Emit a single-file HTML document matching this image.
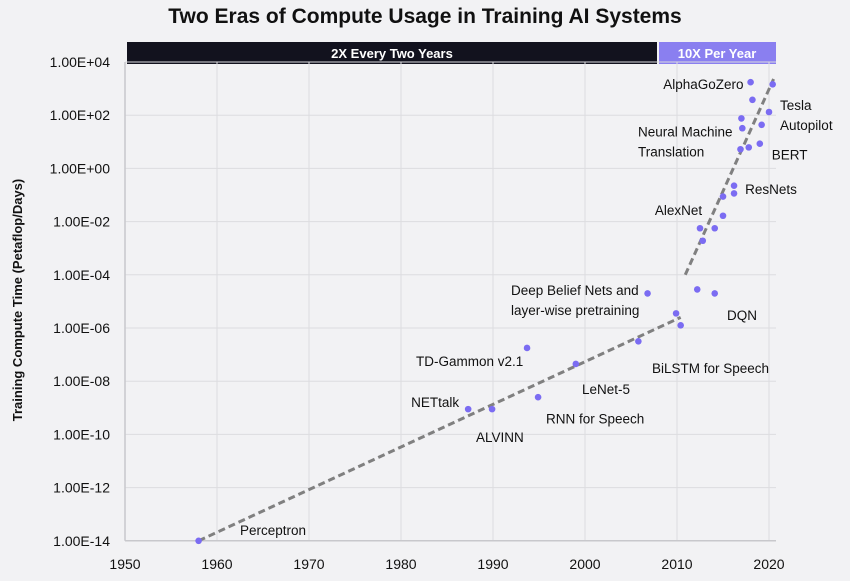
<!DOCTYPE html>
<html><head><meta charset="utf-8"><style>
body{margin:0;background:#f2f2f4;}
svg{display:block;font-family:"Liberation Sans",sans-serif;}
</style></head><body>
<svg id="chart" width="850" height="581" viewBox="0 0 850 581">
<rect width="850" height="581" fill="#f2f2f4"/>
<text x="425" y="23" text-anchor="middle" font-size="21" font-weight="bold" fill="#111">Two Eras of Compute Usage in Training AI Systems</text>
<rect x="127" y="42" width="530" height="22" fill="#12121e"/>
<text x="392" y="58" text-anchor="middle" font-size="13" font-weight="bold" fill="#fff">2X Every Two Years</text>
<rect x="659" y="42" width="117" height="22" fill="#8a7ff0"/>
<text x="717" y="58" text-anchor="middle" font-size="13" font-weight="bold" fill="#fff">10X Per Year</text>
<text transform="translate(22,300) rotate(-90)" text-anchor="middle" font-size="13" font-weight="bold" fill="#111">Training Compute Time (Petaflop/Days)</text>
<g id="grid"></g><g id="axes"></g><g id="trends"></g><g id="labels"></g><g id="points"></g>
</svg>
<script>
const years=[1958,1987.3,1989.9,1994.9,1993.7,1999,2005.8,2006.8,2009.9,2010.4,2012.2,2014.1,2012.8,2012.5,2014.1,2015,2015,2016.2,2016.2,2016.9,2017.8,2019,2017.1,2017,2019.2,2020,2018.2,2018,2020.4];
const logCompute=[-14,-9.05,-9.05,-8.6,-6.75,-7.35,-6.5,-4.7,-5.45,-5.9,-4.55,-4.7,-2.72,-2.25,-2.25,-1.78,-1.06,-0.94,-0.65,0.72,0.79,0.93,1.51,1.88,1.64,2.12,2.58,3.24,3.16];
const xTicks=[1950,1960,1970,1980,1990,2000,2010,2020];
const yTicks=[4,2,0,-2,-4,-6,-8,-10,-12,-14];
const yTickLabels=["1.00E+04","1.00E+02","1.00E+00","1.00E-02","1.00E-04","1.00E-06","1.00E-08","1.00E-10","1.00E-12","1.00E-14"];
const trend1X=[1958,2010.4], trend1Y=[-14,-5.6];
const trend2X=[2010.9,2020.5], trend2Y=[-4.0,3.36];
const labelText=["Perceptron","NETtalk","ALVINN","RNN for Speech","TD-Gammon v2.1","LeNet-5","BiLSTM for Speech","Deep Belief Nets and","layer-wise pretraining","DQN","AlexNet","ResNets","Neural Machine","Translation","BERT","Tesla","Autopilot","AlphaGoZero"];
const labelYear=[1962.5,1981.1,1988.15,1995.76,1981.63,1999.67,2007.28,1991.96,1991.96,2015.43,2007.6,2017.4,2005.76,2005.76,2020.3,2021.2,2021.2,2008.5];
const labelLog=[-13.59,-8.78,-10.1,-9.41,-7.24,-8.3,-7.5,-4.57,-5.32,-5.51,-1.56,-0.77,1.38,0.63,0.52,2.38,1.63,3.18];

const X0=125,XS=9.2,Y0=62,YS=26.6;
const xs=y=>X0+(y-1950)*XS;
const ys=l=>Y0+(4-l)*YS;
const NS="http://www.w3.org/2000/svg";
function mk(tag,parent,attrs){const e=document.createElementNS(NS,tag);for(const k in attrs)e.setAttribute(k,attrs[k]);parent.appendChild(e);return e;}
const grid=document.getElementById('grid'),axes=document.getElementById('axes');
xTicks.forEach(t=>{
  if(t>1950){const l=mk('line',grid,{x1:xs(t),x2:xs(t),y1:ys(4),y2:ys(-14),stroke:'#dcdce0','stroke-width':1});
  
  }
  const tx=mk('text',axes,{x:xs(t),y:569,'text-anchor':'middle','font-size':14,fill:'#111'});tx.textContent=t;
  
  
});
yTicks.forEach((t,i)=>{
  if(t>-14){const l=mk('line',grid,{x1:X0,x2:776,y1:ys(t),y2:ys(t),stroke:'#dcdce0','stroke-width':1});
  
  }
  const tx=mk('text',axes,{x:110,y:ys(t)+5,'text-anchor':'end','font-size':14,fill:'#111'});tx.textContent=yTickLabels[i];
  
  
});
const xa=mk('line',axes,{x1:X0,x2:776,y1:ys(-14),y2:ys(-14),stroke:'#c8c8cc','stroke-width':1.5});


const ya=mk('line',axes,{x1:X0,x2:X0,y1:ys(4),y2:ys(-14),stroke:'#c8c8cc','stroke-width':1.5});


const trends=document.getElementById('trends');
[[trend1X,trend1Y],[trend2X,trend2Y]].forEach(([tx,ty],i)=>{
  const l=mk('line',trends,{x1:xs(tx[0]),y1:ys(ty[0]),x2:xs(tx[1]),y2:ys(ty[1]),stroke:'#808080','stroke-width':3,'stroke-dasharray':'7,4'});
  
  
});
const lg=document.getElementById('labels');
labelText.forEach((s,i)=>{
  const t=mk('text',lg,{x:xs(labelYear[i]),y:ys(labelLog[i])+5,'text-anchor':'start','font-size':13.5,fill:'#111'});
  t.textContent=s;
  
  
});
const pg=document.getElementById('points');
years.forEach((y,i)=>{
  const c=mk('circle',pg,{cx:xs(y),cy:ys(logCompute[i]),r:3.3,fill:'#7b6cf2'});
  
  
});
</script>
</body></html>
